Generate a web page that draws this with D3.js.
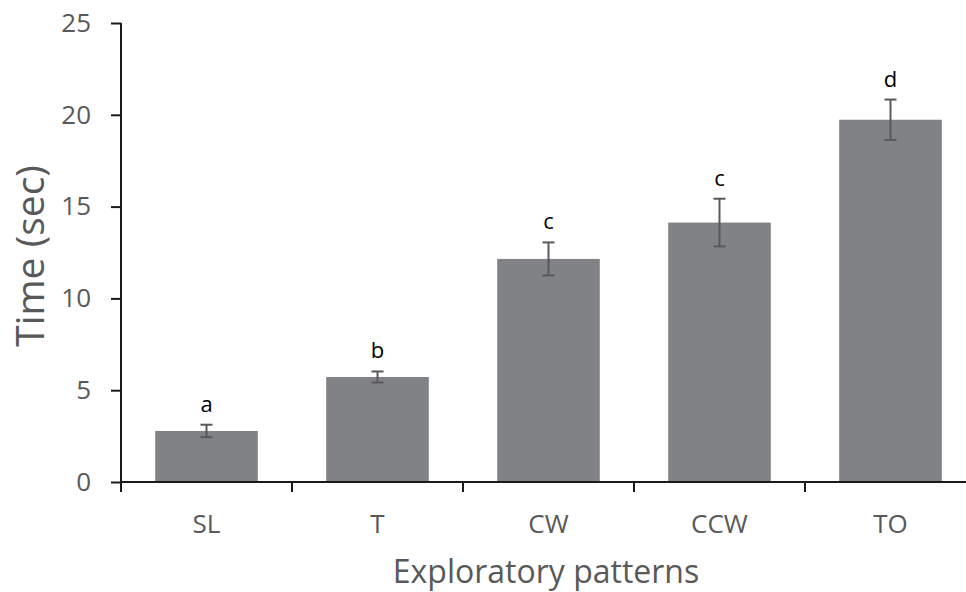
<!DOCTYPE html>
<meta charset="utf-8">
<style>
body { margin: 0; background: #fff; }
text { font-family: "Open Sans", "Liberation Sans", sans-serif; }
.axis path, .axis line { stroke: #1a1a1a; stroke-width: 2px; }
</style>
<body>
<script src="https://cdn.jsdelivr.net/npm/d3@7"></script>
<script>
var patterns = ["SL", "T", "CW", "CCW", "TO"];
var means = [2.78, 5.72, 12.15, 14.13, 19.73];
var errs = [0.34, 0.3, 0.9, 1.3, 1.1];
var letters = ["a", "b", "c", "c", "d"];
var yTicks = [0, 5, 10, 15, 20, 25];

var width = 966, height = 592;
var margin = {top: 23, left: 121};
var plotBottom = 482;
var step = 171;

var svg = d3.select("body").append("svg")
    .attr("width", width)
    .attr("height", height);

var x = d3.scaleBand()
    .domain(patterns)
    .range([margin.left, margin.left + step * 5])
    .paddingInner(0.4)
    .paddingOuter(0.2);

var y = d3.scaleLinear()
    .domain([0, 25])
    .range([plotBottom, margin.top]);

// bars
svg.selectAll(".bar")
    .data(patterns)
  .enter().append("rect")
    .attr("class", "bar")
    .attr("x", function(d) { return x(d); })
    .attr("width", x.bandwidth())
    .attr("y", function(d, i) { return y(means[i]); })
    .attr("height", function(d, i) { return plotBottom - y(means[i]); })
    .attr("fill", "#818285");

// error bars
var eb = svg.selectAll(".err")
    .data(patterns)
  .enter().append("g")
    .attr("class", "err")
    .attr("stroke", "#595959")
    .attr("stroke-width", 2);

eb.append("line")
    .attr("x1", function(d) { return x(d) + x.bandwidth() / 2; })
    .attr("x2", function(d) { return x(d) + x.bandwidth() / 2; })
    .attr("y1", function(d, i) { return y(means[i] + errs[i]); })
    .attr("y2", function(d, i) { return y(means[i] - errs[i]); });

[1, -1].forEach(function(s) {
  eb.append("line")
      .attr("x1", function(d) { return x(d) + x.bandwidth() / 2 - 6; })
      .attr("x2", function(d) { return x(d) + x.bandwidth() / 2 + 6; })
      .attr("y1", function(d, i) { return y(means[i] + s * errs[i]); })
      .attr("y2", function(d, i) { return y(means[i] + s * errs[i]); });
});

// significance letters
svg.selectAll(".letter")
    .data(patterns)
  .enter().append("text")
    .attr("class", "letter")
    .attr("x", function(d) { return x(d) + x.bandwidth() / 2; })
    .attr("y", function(d, i) { return y(means[i] + errs[i]) - 13; })
    .attr("text-anchor", "middle")
    .style("font-size", "22px")
    .attr("fill", "#000")
    .text(function(d, i) { return letters[i]; });

// axes
var yAxis = svg.append("g")
    .attr("class", "axis")
    .attr("transform", "translate(" + margin.left + ",0)")
    .call(d3.axisLeft(y).tickValues(yTicks).tickSize(10).tickSizeOuter(0).tickPadding(20));
yAxis.select(".domain").attr("d", "M0," + y(25) + "V" + plotBottom);
yAxis.selectAll("text")
    .style("font-size", "26px")
    .attr("fill", "#595959");

var xAxis = svg.append("g")
    .attr("class", "axis")
    .attr("transform", "translate(0," + plotBottom + ")");
xAxis.append("line")
    .attr("x1", margin.left - 1).attr("x2", margin.left + step * 5)
    .attr("y1", 0).attr("y2", 0);
xAxis.selectAll(".tk")
    .data(d3.range(6))
  .enter().append("line")
    .attr("x1", function(i) { return margin.left + step * i; })
    .attr("x2", function(i) { return margin.left + step * i; })
    .attr("y1", 0).attr("y2", 10);
xAxis.selectAll(".lbl")
    .data(patterns)
  .enter().append("text")
    .attr("x", function(d) { return x(d) + x.bandwidth() / 2; })
    .attr("y", 51)
    .attr("text-anchor", "middle")
    .attr("fill", "#595959")
    .style("font-size", "26px")
    .text(function(d) { return d; });

// axis titles
svg.append("text")
    .attr("x", 546)
    .attr("y", 583)
    .attr("text-anchor", "middle")
    .attr("fill", "#595959")
    .style("font-size", "32px")
    .text("Exploratory patterns");

svg.append("text")
    .attr("transform", "translate(44,256)rotate(-90)")
    .attr("text-anchor", "middle")
    .attr("fill", "#595959")
    .style("font-size", "39px")
    .text("Time (sec)");
</script>
</body>
